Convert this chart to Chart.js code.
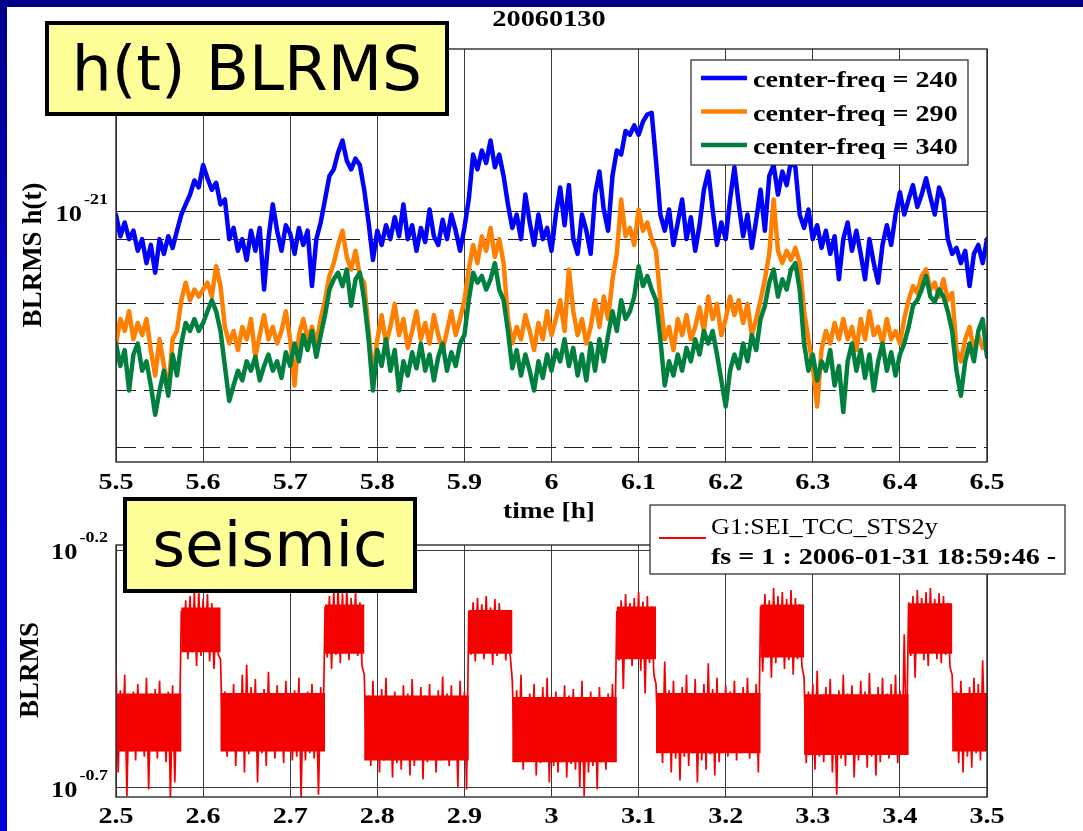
<!DOCTYPE html>
<html>
<head>
<meta charset="utf-8">
<title>h(t) BLRMS / seismic</title>
<script src="https://cdn.jsdelivr.net/npm/chart.js@4.4.1/dist/chart.umd.min.js"></script>
<style>
  html, body { margin: 0; padding: 0; background: #000088; }
  #slide { position: relative; width: 1083px; height: 831px; overflow: hidden; background: #000088; }
  #edge { position: absolute; left: 0; top: 7px; width: 7px; bottom: 0; background: linear-gradient(#00008c, #0000c8 40%, #0000d8); }
  #sheet { position: absolute; left: 7px; top: 7px; right: 0; bottom: 0; background: #fff; }
  canvas { position: absolute; left: 0; top: 0; }
  .tag { position: absolute; box-sizing: border-box; background: #ffff99; border: 4px solid #000;
         font-family: "DejaVu Sans", sans-serif; font-size: 63px; text-align: center; color: #000; white-space: nowrap; }
</style>
</head>
<body>
<div id="slide">
  <div id="edge"></div>
  <div id="sheet"></div>
  <canvas id="htChart" width="1083" height="831"></canvas>
  <canvas id="seisChart" width="1083" height="831"></canvas>
  <div class="tag" style="left:45px; top:21px; width:404px; height:95px; line-height:87px;">h(t) BLRMS</div>
  <div class="tag" style="left:123px; top:497px; width:294px; height:96px; line-height:88px;">seismic</div>
</div>
<script>
// h(t) band-limited RMS, one sample every 0.005 h starting at 5.5 h (values in units of 1e-22)
const htTitle = '20060130';
const htStart = 5.5;
const htStep = 0.005;
const blrms240 = [
  9.9, 9.1, 9.6, 9.0, 9.3, 8.6, 9.0, 8.2, 8.8, 7.9,
  9.0, 8.5, 9.1, 8.7, 9.3, 9.9, 10.3, 10.7, 11.3, 11.0,
  12.0, 11.4, 10.9, 11.2, 10.3, 10.5, 9.0, 9.4, 8.6, 9.0,
  8.3, 9.3, 8.6, 9.4, 7.4, 9.0, 10.3, 9.3, 8.6, 9.5,
  9.2, 8.5, 9.4, 8.8, 9.3, 7.5, 9.0, 9.6, 10.5, 11.5,
  11.8, 12.6, 13.2, 12.2, 11.8, 12.3, 12.0, 10.9, 9.6, 8.3,
  9.3, 8.8, 9.5, 9.0, 9.8, 9.1, 10.3, 9.0, 9.5, 8.6,
  9.4, 8.9, 10.1, 9.1, 8.8, 9.7, 9.0, 9.9, 9.3, 8.6,
  9.4, 10.5, 12.5, 11.8, 12.7, 12.1, 13.2, 11.9, 12.5, 11.5,
  10.3, 9.4, 9.9, 9.0, 10.7, 9.6, 8.8, 9.9, 9.0, 9.4,
  8.6, 9.9, 11.0, 9.5, 11.1, 9.0, 8.5, 9.9, 9.3, 8.5,
  10.7, 11.7, 10.1, 9.3, 11.5, 12.7, 12.5, 13.7, 13.5, 14.0,
  13.5, 14.2, 14.6, 14.7, 12.2, 9.9, 9.3, 10.1, 8.8, 9.6,
  10.5, 9.0, 9.8, 8.6, 9.5, 10.9, 11.7, 10.1, 8.8, 9.6,
  9.0, 10.5, 11.9, 10.3, 9.1, 9.9, 8.7, 9.7, 10.9, 9.3,
  11.5, 12.0, 10.7, 11.7, 11.1, 12.2, 11.9, 9.9, 9.4, 10.1,
  9.0, 9.5, 8.7, 9.3, 8.5, 9.1, 7.7, 9.0, 9.6, 8.6,
  9.3, 8.5, 7.7, 9.0, 8.2, 7.6, 8.8, 9.5, 8.8, 9.9,
  10.8, 9.9, 10.5, 11.1, 10.2, 10.7, 11.4, 10.6, 9.9, 11.0,
  10.5, 9.0, 8.5, 8.7, 8.2, 8.6, 7.5, 8.5, 8.8, 8.2,
  9.0
];
const blrms290 = [
  6.0, 6.6, 6.3, 6.8, 6.1, 6.5, 6.2, 6.6, 5.85, 5.3,
  6.1, 5.5, 5.0, 6.1, 6.3, 7.1, 7.6, 7.1, 7.4, 7.2,
  7.4, 7.6, 7.2, 8.1, 7.5, 6.4, 6.0, 6.3, 5.85, 6.4,
  6.1, 6.6, 5.7, 6.2, 6.7, 6.1, 6.4, 6.0, 6.3, 6.8,
  6.1, 5.1, 6.2, 6.6, 6.1, 6.4, 6.0, 6.6, 7.1, 7.8,
  8.2, 8.8, 9.3, 8.4, 8.0, 8.6, 7.8, 7.6, 6.3, 5.25,
  6.1, 6.7, 6.0, 6.4, 7.0, 6.2, 6.6, 5.9, 6.3, 6.8,
  6.1, 6.5, 6.0, 6.7, 6.2, 5.85, 6.3, 6.8, 6.2, 6.6,
  7.1, 8.0, 8.8, 8.2, 9.1, 8.6, 9.4, 8.4, 9.0, 8.2,
  6.6, 6.0, 6.4, 6.1, 6.7, 6.3, 5.85, 6.5, 6.1, 6.8,
  6.2, 6.6, 7.1, 6.3, 8.0, 6.8, 6.2, 6.6, 6.0, 6.4,
  7.1, 6.4, 7.2, 6.6, 7.7, 8.5, 10.5, 9.1, 9.4, 8.8,
  10.1, 9.3, 9.6, 9.0, 8.6, 7.1, 6.1, 6.4, 5.85, 6.6,
  6.2, 6.7, 6.1, 6.4, 6.9, 6.3, 7.2, 6.6, 7.0, 6.2,
  6.6, 7.2, 6.7, 7.1, 6.5, 7.0, 6.2, 6.6, 7.1, 7.7,
  8.5, 10.5, 8.6, 8.2, 8.6, 8.3, 8.7, 8.2, 6.8, 6.1,
  5.5, 4.7, 5.85, 6.3, 6.0, 6.5, 6.1, 6.6, 6.1, 6.4,
  5.85, 6.6, 6.1, 6.8, 6.2, 6.4, 6.0, 6.6, 6.1, 6.3,
  6.0, 6.6, 7.1, 7.5, 7.3, 7.8, 8.0, 7.4, 7.6, 7.2,
  7.7, 7.1, 7.3, 5.85, 5.6, 6.1, 6.4, 5.85, 6.2, 5.9,
  6.0
];
const blrms340 = [
  6.0, 5.5, 5.85, 5.0, 5.75, 6.0, 5.4, 5.6, 5.1, 4.55,
  5.0, 5.4, 4.9, 5.75, 5.3, 6.0, 6.5, 6.3, 6.6, 6.3,
  6.5, 6.8, 7.1, 6.8, 6.3, 5.5, 4.8, 5.1, 5.4, 5.2,
  5.6, 5.4, 5.7, 5.2, 5.5, 5.75, 5.4, 5.6, 5.25, 5.8,
  5.5, 6.0, 5.6, 6.2, 5.85, 6.3, 5.7, 6.2, 6.7, 7.4,
  7.7, 7.9, 7.5, 8.0, 6.95, 7.7, 7.9, 7.1, 6.1, 5.0,
  5.85, 5.5, 6.1, 5.4, 5.85, 5.0, 5.6, 5.3, 5.8, 5.45,
  6.0, 5.4, 5.75, 5.2, 5.7, 6.0, 5.4, 5.8, 5.5, 6.0,
  6.2, 7.1, 7.9, 7.6, 7.8, 7.4, 7.7, 8.2, 7.4, 7.1,
  6.3, 5.45, 5.85, 5.3, 5.75, 5.4, 5.0, 5.6, 5.25, 5.75,
  5.4, 5.85, 5.6, 6.1, 5.5, 5.9, 5.3, 5.75, 5.2, 6.0,
  5.4, 6.1, 5.6, 6.2, 6.8, 6.3, 7.1, 6.6, 6.8, 7.2,
  8.1, 7.5, 7.8, 7.4, 7.1, 6.1, 5.1, 5.6, 5.3, 5.75,
  5.4, 5.9, 5.6, 6.1, 5.75, 6.3, 6.0, 6.3, 5.75, 5.2,
  4.7, 5.4, 5.75, 5.45, 6.0, 5.6, 6.2, 5.85, 6.6, 6.95,
  7.6, 8.0, 7.2, 7.7, 7.4, 8.0, 8.2, 7.4, 6.0, 5.4,
  5.75, 5.2, 5.6, 5.4, 5.85, 5.1, 5.5, 4.6, 5.6, 6.0,
  5.4, 5.85, 5.25, 5.75, 5.0, 5.6, 6.0, 5.4, 5.8, 5.3,
  5.75, 6.0, 6.4, 6.95, 7.1, 7.4, 7.8, 7.2, 7.05, 7.4,
  7.2, 6.8, 6.3, 5.4, 4.9, 5.6, 6.0, 5.6, 6.3, 6.6,
  5.7
];
const htLabels = ['center-freq = 240', 'center-freq = 290', 'center-freq = 340'];
const htColors = ['#0000ff', '#ff8000', '#00803e'];
const htXTicks = [5.5, 5.6, 5.7, 5.8, 5.9, 6.0, 6.1, 6.2, 6.3, 6.4, 6.5];
const htYTicks = [4e-22, 5e-22, 6e-22, 7e-22, 8e-22, 9e-22, 1e-21];
const htYLabelled = [1e-21];

// seismic BLRMS, upper and lower excursion in each 0.005 h bin starting at 2.5 h
const seisStart = 2.5;
const seisStep = 0.005;
const seisHigh = [
  0.365, 0.320, 0.345, 0.310, 0.318, 0.330, 0.312, 0.340, 0.315, 0.322, 0.335, 0.308, 0.318, 0.328, 0.312,
  0.470, 0.495, 0.505, 0.515, 0.520, 0.498, 0.510, 0.488, 0.470,
  0.372, 0.318, 0.305, 0.330, 0.312, 0.345, 0.362, 0.325, 0.338, 0.310, 0.322, 0.350,
  0.308, 0.328, 0.315, 0.335, 0.305, 0.320, 0.340, 0.312, 0.318, 0.330, 0.308, 0.325,
  0.480, 0.505, 0.520, 0.530, 0.512, 0.525, 0.500, 0.515, 0.490,
  0.345, 0.312, 0.335, 0.305, 0.322, 0.340, 0.310, 0.318, 0.300, 0.328, 0.315, 0.338,
  0.302, 0.325, 0.312, 0.330, 0.308, 0.320, 0.342, 0.315, 0.328, 0.305, 0.335, 0.318,
  0.470, 0.490, 0.500, 0.485, 0.505, 0.478, 0.498, 0.488, 0.470, 0.460,
  0.335, 0.320, 0.345, 0.305, 0.315, 0.330, 0.300, 0.325, 0.340, 0.310, 0.318, 0.295,
  0.328, 0.312, 0.322, 0.305, 0.335, 0.300, 0.318, 0.310, 0.325, 0.302, 0.315, 0.330,
  0.470, 0.495, 0.510, 0.488, 0.500, 0.515, 0.492, 0.505, 0.480,
  0.330, 0.312, 0.368, 0.320, 0.335, 0.305, 0.325, 0.345, 0.315, 0.338, 0.310, 0.330,
  0.365, 0.322, 0.340, 0.308, 0.328, 0.318, 0.335, 0.300, 0.325, 0.340, 0.315, 0.330,
  0.480, 0.510, 0.495, 0.525, 0.505, 0.515, 0.498, 0.520, 0.500, 0.485,
  0.340, 0.318, 0.330, 0.352, 0.312, 0.325, 0.338, 0.305, 0.320, 0.345, 0.315, 0.328,
  0.300, 0.335, 0.318, 0.348, 0.310, 0.325, 0.340, 0.315, 0.330, 0.345, 0.320, 0.420,
  0.490, 0.505, 0.520, 0.500, 0.515, 0.525, 0.498, 0.512, 0.505, 0.488,
  0.345, 0.318, 0.335, 0.312, 0.325, 0.340, 0.330, 0.370
];
const seisLow = [
  0.215, 0.240, 0.192, 0.238, 0.228, 0.245, 0.232, 0.198, 0.240, 0.230, 0.244, 0.226, 0.191, 0.205, 0.238,
  0.390, 0.372, 0.385, 0.360, 0.378, 0.392, 0.368, 0.355, 0.380,
  0.245, 0.232, 0.240, 0.222, 0.238, 0.215, 0.235, 0.244, 0.205, 0.236, 0.222, 0.240,
  0.230, 0.246, 0.225, 0.238, 0.228, 0.232, 0.191, 0.228, 0.236, 0.230, 0.193, 0.240,
  0.375, 0.355, 0.380, 0.365, 0.388, 0.370, 0.392, 0.378, 0.360,
  0.236, 0.222, 0.240, 0.215, 0.228, 0.232, 0.210, 0.225, 0.218, 0.230, 0.212, 0.222,
  0.235, 0.208, 0.226, 0.232, 0.215, 0.228, 0.238, 0.222, 0.230, 0.200, 0.236, 0.198,
  0.380, 0.368, 0.390, 0.372, 0.385, 0.362, 0.378, 0.390, 0.370, 0.382,
  0.232, 0.240, 0.218, 0.228, 0.236, 0.212, 0.225, 0.230, 0.205, 0.222, 0.215, 0.228,
  0.210, 0.224, 0.218, 0.200, 0.192, 0.215, 0.222, 0.198, 0.226, 0.218, 0.230, 0.236,
  0.370, 0.322, 0.375, 0.360, 0.380, 0.352, 0.315, 0.365, 0.345,
  0.240, 0.225, 0.238, 0.215, 0.230, 0.207, 0.232, 0.222, 0.236, 0.205, 0.228, 0.218,
  0.235, 0.212, 0.226, 0.240, 0.232, 0.245, 0.228, 0.236, 0.242, 0.230, 0.238, 0.215,
  0.350, 0.375, 0.340, 0.365, 0.380, 0.355, 0.370, 0.345, 0.372, 0.360,
  0.225, 0.240, 0.218, 0.232, 0.226, 0.238, 0.215, 0.193, 0.230, 0.222, 0.236, 0.210,
  0.228, 0.240, 0.220, 0.232, 0.212, 0.226, 0.238, 0.230, 0.242, 0.225, 0.236, 0.240,
  0.378, 0.340, 0.385, 0.370, 0.360, 0.388, 0.372, 0.365, 0.380, 0.358,
  0.240, 0.225, 0.215, 0.232, 0.220, 0.236, 0.228, 0.250
];
// dense core of the trace: start of each quiet / loud stretch and its core limits
const seisBlockStart = [2.5, 2.575, 2.62, 2.74, 2.785, 2.905, 2.955, 3.075, 3.12, 3.24, 3.29, 3.41, 3.46, 3.5];
const seisCoreTop = [0.315, 0.478, 0.316, 0.485, 0.312, 0.472, 0.310, 0.480, 0.316, 0.485, 0.314, 0.488, 0.316, 0.316];
const seisCoreBottom = [0.238, 0.385, 0.238, 0.382, 0.228, 0.382, 0.226, 0.372, 0.236, 0.375, 0.234, 0.382, 0.238, 0.238];

const seisLegend = ['G1:SEI_TCC_STS2y', 'fs = 1 : 2006-01-31 18:59:46 -'];
const seisXTicks = [2.5, 2.6, 2.7, 2.8, 2.9, 3.0, 3.1, 3.2, 3.3, 3.4, 3.5];
const seisYTicks = [10 ** -0.7, 10 ** -0.2];

const SERIF = '"Liberation Serif", "Times New Roman", serif';

// horizontal text, optionally widened
function wideText(ctx, str, x, y, font, align, sx) {
  ctx.save();
  ctx.font = font;
  ctx.fillStyle = '#000';
  ctx.textAlign = align;
  ctx.textBaseline = 'alphabetic';
  ctx.translate(x, y);
  ctx.scale(sx, 1);
  ctx.fillText(str, 0, 0);
  ctx.restore();
}

// axis title running bottom-to-top
function upText(ctx, str, x, y, font) {
  ctx.save();
  ctx.font = font;
  ctx.fillStyle = '#000';
  ctx.textAlign = 'center';
  ctx.textBaseline = 'alphabetic';
  ctx.translate(x, y);
  ctx.rotate(-Math.PI / 2);
  ctx.fillText(str, 0, 0);
  ctx.restore();
}

// "10" with a raised exponent, right edge at `right`
function powerLabel(ctx, value, y, right) {
  const exp = String(Math.round(Math.log10(value) * 10) / 10);
  const expFont = 'bold 15px ' + SERIF;
  ctx.font = expFont;
  const ew = ctx.measureText(exp).width * 1.2;
  wideText(ctx, exp, right, y - 8, expFont, 'right', 1.2);
  wideText(ctx, '10', right - ew - 2, y + 9, 'bold 24px ' + SERIF, 'right', 1.1);
}

function drawFrame(chart) {
  const { ctx, chartArea: a } = chart;
  ctx.save();
  ctx.strokeStyle = '#2b2b2b';
  ctx.lineWidth = 1.4;
  ctx.strokeRect(a.left, a.top, a.right - a.left, a.bottom - a.top);
  ctx.restore();
}

function xTickLabels(chart, baseline) {
  const sc = chart.scales.x;
  sc.ticks.forEach(t => {
    const px = sc.getPixelForValue(t.value);
    wideText(chart.ctx, String(+t.value.toFixed(1)), px, baseline, 'bold 24px ' + SERIF, 'center', 1.17);
  });
}

const htDecor = {
  id: 'htDecor',
  afterDraw(chart) {
    const ctx = chart.ctx;
    drawFrame(chart);
    wideText(ctx, htTitle, 549, 26, 'bold 24px ' + SERIF, 'center', 1.18);
    xTickLabels(chart, 489);
    const y = chart.scales.y;
    htYLabelled.forEach(v => powerLabel(ctx, v, y.getPixelForValue(v), 108));
    wideText(ctx, 'time [h]', 549, 518, 'bold 24px ' + SERIF, 'center', 1.14);
    upText(ctx, 'BLRMS h(t)', 41, 255, 'bold 27px ' + SERIF);

    // legend
    ctx.save();
    ctx.fillStyle = '#fff';
    ctx.fillRect(691, 60, 277, 105);
    ctx.strokeStyle = '#222';
    ctx.lineWidth = 1.2;
    ctx.strokeRect(691, 60, 277, 105);
    chart.data.datasets.forEach((ds, i) => {
      const base = 87 + i * 33.5;
      ctx.strokeStyle = ds.borderColor;
      ctx.lineWidth = 4.5;
      ctx.beginPath();
      ctx.moveTo(701, base - 9);
      ctx.lineTo(747, base - 9);
      ctx.stroke();
      wideText(ctx, ds.label, 753, base, 'bold 24px ' + SERIF, 'left', 1.17);
    });
    ctx.restore();
  }
};

const seisDecor = {
  id: 'seisDecor',
  afterDraw(chart) {
    const ctx = chart.ctx;
    drawFrame(chart);
    xTickLabels(chart, 823);
    const y = chart.scales.y;
    seisYTicks.forEach(v => powerLabel(ctx, v, y.getPixelForValue(v), 108));
    upText(ctx, 'BLRMS', 38, 670, 'bold 27px ' + SERIF);

    // legend
    const ds = chart.data.datasets[0];
    ctx.save();
    ctx.fillStyle = '#fff';
    ctx.fillRect(650, 505, 415, 69);
    ctx.strokeStyle = '#222';
    ctx.lineWidth = 1.2;
    ctx.strokeRect(650, 505, 415, 69);
    ctx.strokeStyle = ds.borderColor;
    ctx.lineWidth = 2;
    ctx.beginPath();
    ctx.moveTo(659, 538);
    ctx.lineTo(706, 538);
    ctx.stroke();
    wideText(ctx, seisLegend[0], 711, 534, '24px ' + SERIF, 'left', 1.09);
    wideText(ctx, seisLegend[1], 711, 564, 'bold 24px ' + SERIF, 'left', 1.17);
    ctx.restore();
  }
};

function htSeries(values, i) {
  return {
    label: htLabels[i],
    order: 3 - i,
    borderColor: htColors[i],
    backgroundColor: htColors[i],
    data: values.map((v, k) => ({ x: htStart + k * htStep, y: v * 1e-22 }))
  };
}

// zig-zag through each bin's upper and lower excursion
const seisPoints = [];
seisHigh.forEach((hi, i) => {
  const t = seisStart + i * seisStep;
  seisPoints.push({ x: t, y: hi }, { x: t + seisStep / 2, y: seisLow[i] });
});
const coreTopPts = seisBlockStart.map((t, i) => ({ x: t, y: seisCoreTop[i] }));
const coreBottomPts = seisBlockStart.map((t, i) => ({ x: t, y: seisCoreBottom[i] }));

const RED = '#f40000';
const gridColor = '#3a3a3a';

new Chart(document.getElementById('htChart'), {
  type: 'line',
  data: { datasets: [htSeries(blrms240, 0), htSeries(blrms290, 1), htSeries(blrms340, 2)] },
  options: {
    responsive: false,
    animation: false,
    events: [],
    layout: { padding: { left: 116, right: 96, top: 49, bottom: 369 } },
    plugins: { legend: { display: false }, tooltip: { enabled: false } },
    elements: {
      point: { radius: 0 },
      line: { tension: 0, borderWidth: 4.5, borderJoinStyle: 'round', borderCapStyle: 'round' }
    },
    scales: {
      x: {
        type: 'linear', min: 5.5, max: 6.5,
        afterBuildTicks: s => { s.ticks = htXTicks.map(v => ({ value: v })); },
        ticks: { display: false },
        grid: { color: gridColor, lineWidth: 1, drawTicks: false },
        border: { display: false }
      },
      y: {
        type: 'logarithmic', min: 3.788e-22, max: 1.883e-21,
        afterBuildTicks: s => { s.ticks = htYTicks.map(v => ({ value: v })); },
        ticks: { display: false },
        grid: { color: '#222', lineWidth: 1, drawTicks: false },
        border: { display: false, dash: c => (c.tick && c.tick.value === 1e-21) ? [] : [20, 8] }
      }
    }
  },
  plugins: [htDecor]
});

new Chart(document.getElementById('seisChart'), {
  type: 'line',
  data: {
    datasets: [
      { label: seisLegend[0], borderColor: RED, backgroundColor: RED, borderWidth: 1.7, fill: false, data: seisPoints },
      { label: 'core top', borderColor: RED, backgroundColor: RED, borderWidth: 0, stepped: 'before', fill: '+1', data: coreTopPts },
      { label: 'core bottom', borderColor: RED, backgroundColor: RED, borderWidth: 0, stepped: 'before', fill: false, data: coreBottomPts }
    ]
  },
  options: {
    responsive: false,
    animation: false,
    events: [],
    layout: { padding: { left: 116, right: 96, top: 545, bottom: 34 } },
    plugins: { legend: { display: false }, tooltip: { enabled: false } },
    elements: { point: { radius: 0 }, line: { tension: 0 } },
    scales: {
      x: {
        type: 'linear', min: 2.5, max: 3.5, z: 1,
        afterBuildTicks: s => { s.ticks = seisXTicks.map(v => ({ value: v })); },
        ticks: { display: false },
        grid: { color: gridColor, lineWidth: 1, drawTicks: false },
        border: { display: false }
      },
      y: {
        type: 'logarithmic', min: 0.191, max: 0.6465, z: 1,
        afterBuildTicks: s => { s.ticks = seisYTicks.map(v => ({ value: v })); },
        ticks: { display: false },
        grid: { color: gridColor, lineWidth: 1, drawTicks: false },
        border: { display: false }
      }
    }
  },
  plugins: [seisDecor]
});
</script>
</body>
</html>
